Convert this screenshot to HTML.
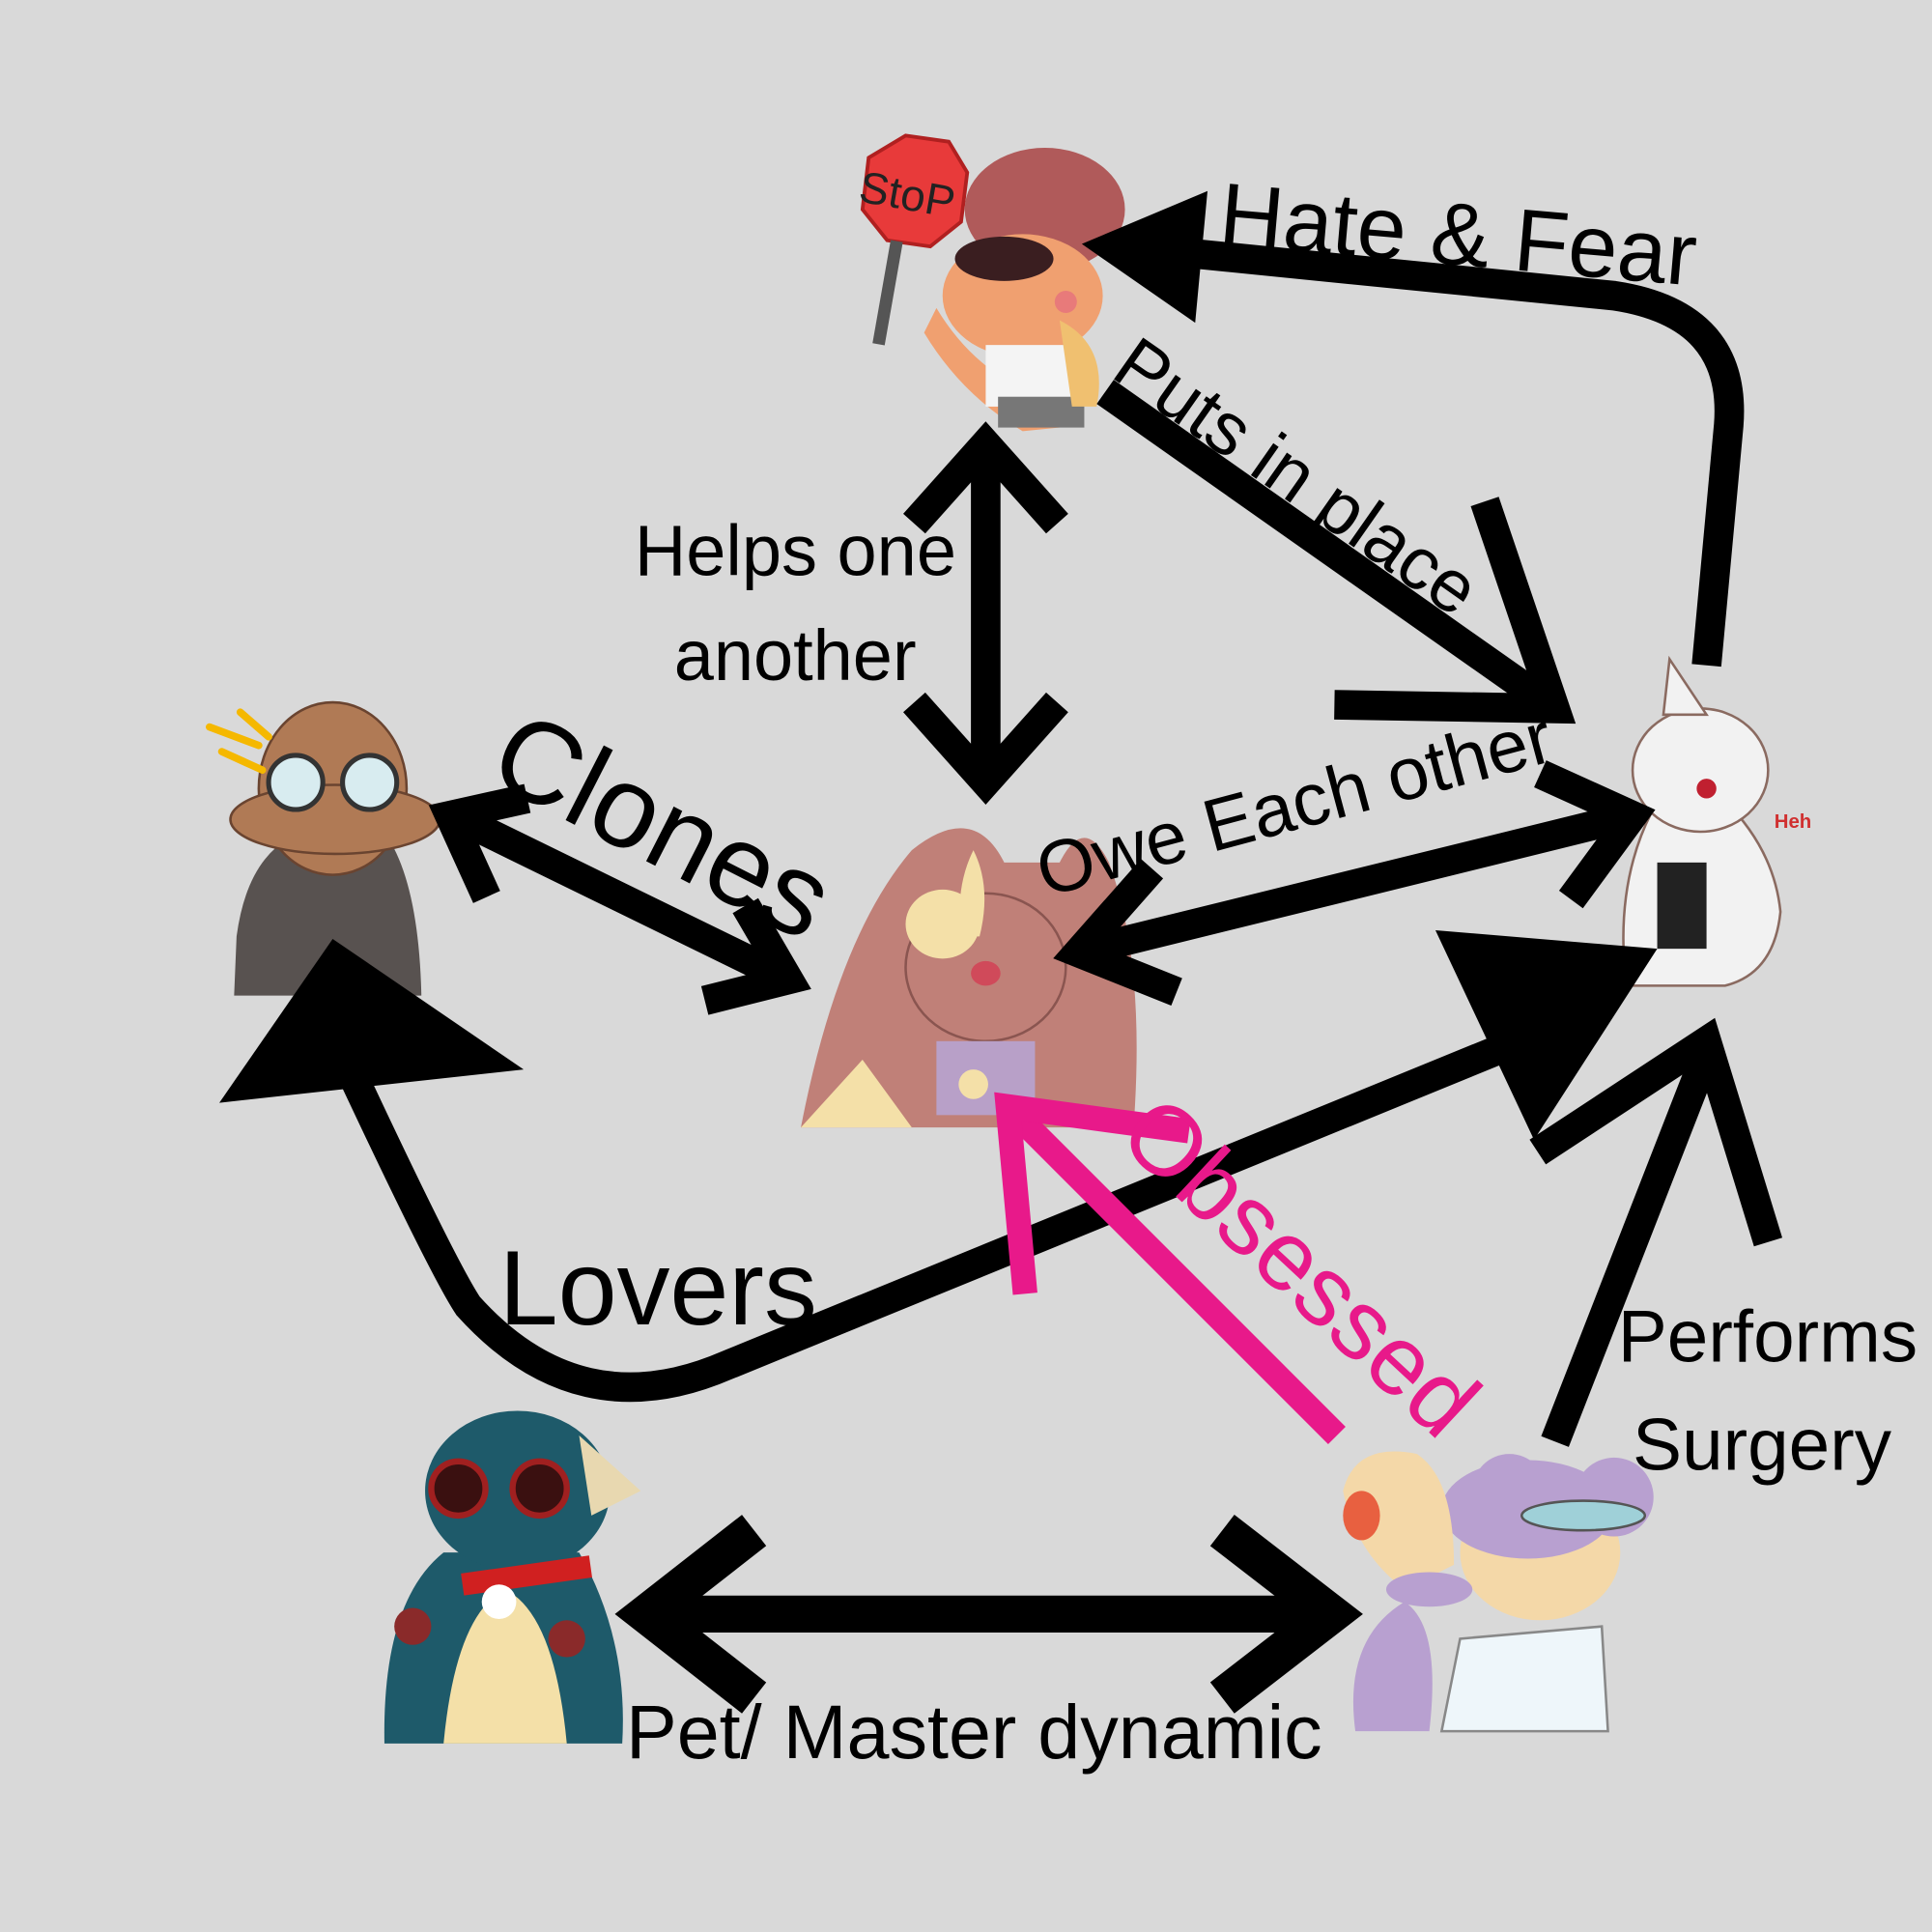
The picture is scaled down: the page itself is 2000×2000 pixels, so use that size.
<!DOCTYPE html>
<html><head><meta charset="utf-8"><style>
html,body{margin:0;padding:0;background:#d9d9d9;}
svg{display:block;}
text{font-family:"Liberation Sans",sans-serif;}
</style></head><body>
<svg width="2000" height="2000" viewBox="0 0 1568 1568" xmlns="http://www.w3.org/2000/svg">
<rect width="1568" height="1568" fill="#d9d9d9"/>

<g>
<polygon points="705,128 735,110 770,115 785,140 780,180 755,200 720,195 700,170" fill="#e83a3a" stroke="#b02020" stroke-width="3"/>
<text x="697" y="170" font-size="36" fill="#222" transform="rotate(10 735 160)">StoP</text>
<rect x="715" y="195" width="10" height="85" fill="#555" transform="rotate(10 720 240)"/>
<ellipse cx="848" cy="170" rx="65" ry="50" fill="#b05a5a"/>
<ellipse cx="830" cy="240" rx="65" ry="50" fill="#f0a070"/>
<ellipse cx="815" cy="210" rx="40" ry="18" fill="#3a1e20"/>
<path d="M760,250 Q790,300 840,320 L880,345 L830,350 Q780,320 750,270 Z" fill="#f0a070"/>
<rect x="800" y="280" width="70" height="50" fill="#f4f4f4"/>
<rect x="810" y="322" width="70" height="25" fill="#777"/>
<path d="M860,260 Q900,280 890,330 L870,330 Z" fill="#f0c070"/>
<circle cx="865" cy="245" r="9" fill="#e87a7a"/>
</g>

<g>
<path d="M190,808 L192,760 Q200,700 235,680 L315,680 Q340,720 342,808 Z" fill="#585250"/>
<ellipse cx="270" cy="640" rx="60" ry="70" fill="#b07a55" stroke="#6a4430" stroke-width="2"/>
<ellipse cx="272" cy="665" rx="85" ry="28" fill="#b07a55" stroke="#6a4430" stroke-width="2"/>
<circle cx="240" cy="635" r="22" fill="#d8ecf0" stroke="#333" stroke-width="4"/>
<circle cx="300" cy="635" r="22" fill="#d8ecf0" stroke="#333" stroke-width="4"/>
<path d="M170,590 L210,605 M180,610 L213,625 M195,578 L218,598" stroke="#f5b800" stroke-width="6" stroke-linecap="round"/>
</g>

<g>
<path d="M650,915 Q680,760 740,690 Q790,650 815,700 L860,700 Q880,660 900,700 Q930,780 920,915 Z" fill="#c08078"/>
<ellipse cx="800" cy="785" rx="65" ry="60" fill="#c08078" stroke="#8a5550" stroke-width="2"/>
<ellipse cx="765" cy="750" rx="30" ry="28" fill="#f4e0a8"/>
<path d="M790,690 Q805,720 795,760 L780,760 Q775,720 790,690 Z" fill="#f4e0a8"/>
<path d="M650,915 L700,860 L740,915 Z" fill="#f4e0a8"/>
<rect x="760" y="845" width="80" height="60" fill="#b8a0c8"/>
<ellipse cx="800" cy="790" rx="12" ry="10" fill="#d04a5a"/>
<circle cx="790" cy="880" r="12" fill="#f4e0a8"/>
</g>

<g>
<path d="M1320,800 Q1310,720 1340,660 L1400,650 Q1440,690 1445,740 Q1440,790 1400,800 Z" fill="#f2f2f2" stroke="#8a6a60" stroke-width="2"/>
<ellipse cx="1380" cy="625" rx="55" ry="50" fill="#f2f2f2" stroke="#8a6a60" stroke-width="2"/>
<path d="M1350,580 L1355,535 L1385,580 Z" fill="#f2f2f2" stroke="#8a6a60" stroke-width="2"/>
<rect x="1345" y="700" width="40" height="70" fill="#222"/>
<circle cx="1385" cy="640" r="8" fill="#c02030"/>
<text x="1440" y="672" font-size="16" fill="#d03030" font-weight="bold">Heh</text>
</g>

<g>
<path d="M312,1415 Q310,1300 360,1260 L470,1260 Q510,1330 505,1415 Z" fill="#1e5a6a"/>
<path d="M360,1415 Q370,1310 410,1290 Q450,1310 460,1415 Z" fill="#f4e0a8"/>
<ellipse cx="420" cy="1210" rx="75" ry="65" fill="#1e5a6a"/>
<path d="M470,1165 L520,1210 L480,1230 Z" fill="#e8d8b0"/>
<circle cx="372" cy="1208" r="22" fill="#3a1010" stroke="#a02020" stroke-width="5"/>
<circle cx="438" cy="1208" r="22" fill="#3a1010" stroke="#a02020" stroke-width="5"/>
<rect x="375" y="1270" width="105" height="18" fill="#d02020" transform="rotate(-8 425 1280)"/>
<circle cx="405" cy="1300" r="14" fill="#fff"/>
<circle cx="335" cy="1320" r="15" fill="#8a2a2a"/>
<circle cx="460" cy="1330" r="15" fill="#8a2a2a"/>
</g>

<g>
<path d="M1100,1405 Q1090,1330 1140,1300 Q1170,1320 1160,1405 Z" fill="#b8a0d0"/>
<path d="M1170,1405 L1185,1330 L1300,1320 L1305,1405 Z" fill="#eef6fa" stroke="#888" stroke-width="2"/>
<ellipse cx="1250" cy="1260" rx="65" ry="55" fill="#f4d8a8"/>
<ellipse cx="1240" cy="1225" rx="70" ry="40" fill="#b8a0d0"/>
<circle cx="1225" cy="1210" r="30" fill="#b8a0d0"/>
<circle cx="1310" cy="1215" r="32" fill="#b8a0d0"/>
<ellipse cx="1285" cy="1230" rx="50" ry="12" fill="#9fd0d8" stroke="#555" stroke-width="2"/>
<path d="M1090,1210 Q1100,1170 1150,1180 Q1180,1200 1180,1270 L1140,1290 Q1100,1260 1090,1210 Z" fill="#f4d8a8"/>
<ellipse cx="1105" cy="1230" rx="15" ry="20" fill="#e86040"/>
<ellipse cx="1160" cy="1290" rx="35" ry="14" fill="#b8a0d0"/>
</g>

<g fill="none" stroke="#000" stroke-width="24" stroke-linejoin="miter" stroke-linecap="butt">
<line x1="800" y1="360" x2="800" y2="635"/>
<polyline points="742,425 800,360 858,425"/>
<polyline points="742,570 800,635 858,570"/>
<line x1="368" y1="662" x2="640" y2="795"/>
<polyline points="428,648 365,662 395,728"/>
<polyline points="605,735 640,795 572,812"/>
<line x1="875" y1="773" x2="1325" y2="662"/>
<polyline points="935,705 875,773 955,805"/>
<polyline points="1250,628 1325,662 1275,730"/>
<line x1="897" y1="318" x2="1262" y2="575"/>
<polyline points="1205,407 1262,575 1083,572"/>
<path d="M1385,540 L1403,345 Q1410,255 1310,240 L940,203"/>
<path d="M1270,830 L590,1108 Q470,1160 380,1060 Q360,1030 285,870"/>
<line x1="1262" y1="1170" x2="1383" y2="860"/>
<polyline points="1248,935 1385,845 1435,1008"/>
<line x1="530" y1="1310" x2="1080" y2="1310" stroke-width="30"/>
<polyline points="612,1242 525,1310 612,1378" stroke-width="32"/>
<polyline points="992,1242 1080,1310 992,1378" stroke-width="32"/>
</g>
<polygon points="878,198 980,155 970,262" fill="#000"/>
<polygon points="1165,755 1345,770 1245,925" fill="#000"/>
<polygon points="178,895 270,762 425,868" fill="#000"/>

<g fill="none" stroke="#e8198a" stroke-width="20">
<line x1="1085" y1="1165" x2="818" y2="898"/>
<polyline points="832,1050 818,898 965,918"/>
</g>

<text x="515" y="467" font-size="58" fill="#000">Helps one</text>
<text x="547" y="552" font-size="58" fill="#000">another</text>
<text x="0" y="0" font-size="94" fill="#000" transform="translate(393,632) rotate(27)">Clones</text>
<text x="0" y="0" font-size="60" fill="#000" transform="translate(848,728) rotate(-15)">Owe Each other</text>
<text x="0" y="0" font-size="60" fill="#000" transform="translate(900,305) rotate(35)">Puts in place</text>
<text x="0" y="0" font-size="72" fill="#000" transform="translate(988,198) rotate(5)">Hate &amp; Fear</text>
<text x="405" y="1075" font-size="86" fill="#000">Lovers</text>
<text x="0" y="0" font-size="80" fill="#e8198a" transform="translate(905,925) rotate(43)">Obsessed</text>
<text x="1313" y="1105" font-size="60" fill="#000">Performs</text>
<text x="1325" y="1193" font-size="60" fill="#000">Surgery</text>
<text x="508" y="1427" font-size="62" fill="#000">Pet/ Master dynamic</text>
</svg>
</body></html>
